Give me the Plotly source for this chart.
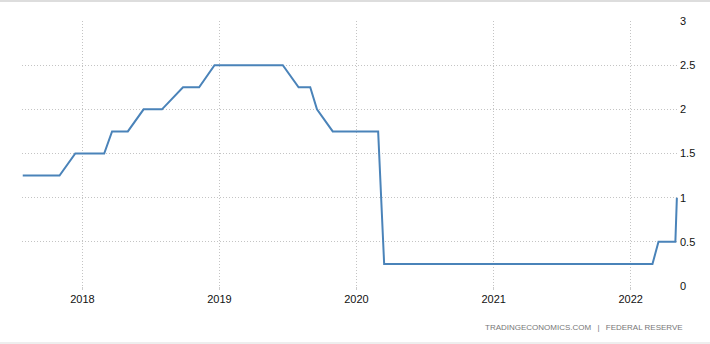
import plotly.graph_objects as go

dates = [
    "2017-07-26", "2017-09-20", "2017-11-01", "2017-12-13",
    "2018-01-31", "2018-02-28", "2018-03-21", "2018-05-02", "2018-06-13",
    "2018-08-01", "2018-09-26", "2018-11-08", "2018-12-19",
    "2019-01-30", "2019-03-20", "2019-05-01", "2019-06-19", "2019-07-31",
    "2019-08-31", "2019-09-18", "2019-10-30", "2019-12-11",
    "2020-01-29", "2020-02-28", "2020-03-15", "2020-04-29", "2020-06-10",
    "2020-07-29", "2020-09-16", "2020-11-05", "2020-12-16",
    "2021-01-27", "2021-03-17", "2021-04-28", "2021-06-16", "2021-07-28",
    "2021-09-22", "2021-11-03", "2021-12-15",
    "2022-01-26", "2022-02-28", "2022-03-16", "2022-04-30", "2022-05-04",
]
rates = [
    1.25, 1.25, 1.25, 1.5,
    1.5, 1.5, 1.75, 1.75, 2.0,
    2.0, 2.25, 2.25, 2.5,
    2.5, 2.5, 2.5, 2.5, 2.25,
    2.25, 2.0, 1.75, 1.75,
    1.75, 1.75, 0.25, 0.25, 0.25,
    0.25, 0.25, 0.25, 0.25,
    0.25, 0.25, 0.25, 0.25, 0.25,
    0.25, 0.25, 0.25,
    0.25, 0.25, 0.5, 0.5, 1.0,
]
x_ticks = ["2018-01-01", "2019-01-01", "2020-01-01", "2021-01-01", "2022-01-01"]
x_tick_labels = ["2018", "2019", "2020", "2021", "2022"]
y_ticks = [0, 0.5, 1, 1.5, 2, 2.5, 3]
y_tick_labels = ["0", "0.5", "1", "1.5", "2", "2.5", "3"]
source_text = "TRADINGECONOMICS.COM  |  FEDERAL RESERVE"

fig = go.Figure()
fig.add_trace(go.Scatter(
    x=dates, y=rates, mode="lines",
    line=dict(color="#4a83b9", width=2),
    hoverinfo="x+y", showlegend=False,
))

W, H = 710, 344
ml, mr, mt, mb = 22, 32, 21, 58

fig.update_layout(
    width=W, height=H,
    margin=dict(l=ml, r=mr, t=mt, b=mb, pad=0),
    paper_bgcolor="white", plot_bgcolor="white",
    font=dict(family="Liberation Sans, Arial, sans-serif", size=11, color="#222"),
    xaxis=dict(
        type="date",
        range=["2017-07-24", "2022-05-07"],
        tickmode="array", tickvals=x_ticks, ticktext=x_tick_labels,
        showgrid=True, gridcolor="#c4c4c4", griddash="1px,2px", gridwidth=1,
        zeroline=False, showline=False,
        ticks="outside", ticklen=3, tickcolor="#cccccc",
        tickfont=dict(size=11, color="#111"),
    ),
    yaxis=dict(
        side="right",
        range=[0, 3],
        tickmode="array", tickvals=y_ticks, ticktext=y_tick_labels,
        showgrid=True, gridcolor="#c4c4c4", griddash="1px,2px", gridwidth=1,
        zeroline=False, showline=False,
        ticks="", ticklabelstandoff=1,
        tickfont=dict(size=11, color="#111"),
    ),
)

# frame lines at top and bottom of the widget
pw = W - ml - mr
ph = H - mt - mb
def px_x(p):
    return (p - ml) / pw
def px_y(p):
    return (H - mb - p) / ph

fig.add_shape(type="line", xref="paper", yref="paper",
              x0=px_x(0), x1=px_x(W), y0=px_y(1), y1=px_y(1),
              line=dict(color="#dddddd", width=2))
fig.add_shape(type="line", xref="paper", yref="paper",
              x0=px_x(0), x1=px_x(W), y0=px_y(343), y1=px_y(343),
              line=dict(color="#eeeeee", width=2))

fig.add_annotation(
    text=source_text.replace("  ", "\u2002 "), xref="paper", yref="paper",
    x=px_x(685), y=px_y(327), xanchor="right", yanchor="middle",
    showarrow=False, font=dict(size=8, color="#777777"),
)

fig.write_html("out.html")
